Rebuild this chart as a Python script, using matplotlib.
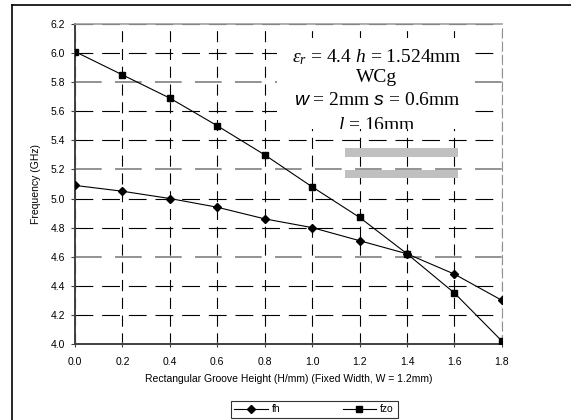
import matplotlib
matplotlib.use('Agg')
import matplotlib.pyplot as plt
from matplotlib.patches import Rectangle
from matplotlib.lines import Line2D
from matplotlib.transforms import Bbox, TransformedBbox

# groove height (mm) and frequencies (GHz)
height = [0.0, 0.2, 0.4, 0.6, 0.8, 1.0, 1.2, 1.4, 1.6, 1.8]
fh = [5.09, 5.05, 5.00, 4.94, 4.86, 4.80, 4.71, 4.62, 4.48, 4.30]
fzo = [6.01, 5.85, 5.69, 5.50, 5.30, 5.08, 4.87, 4.62, 4.35, 4.02]
xticks = [0.0, 0.2, 0.4, 0.6, 0.8, 1.0, 1.2, 1.4, 1.6, 1.8]
yticks = [4.0, 4.2, 4.4, 4.6, 4.8, 5.0, 5.2, 5.4, 5.6, 5.8, 6.0, 6.2]

plt.rcParams['font.family'] = ['Liberation Sans', 'DejaVu Sans']
# Times-like math text, with sans italic for the w and s symbols
plt.rcParams['mathtext.fontset'] = 'custom'
plt.rcParams['mathtext.rm'] = 'Liberation Serif'
plt.rcParams['mathtext.it'] = 'Liberation Serif:italic'
plt.rcParams['mathtext.bf'] = 'Liberation Sans:italic'

fig = plt.figure(figsize=(5.71, 4.20), dpi=100)
ax = fig.add_axes([0.1313, 0.181, 0.7477, 0.762])

ax.plot(height, fh, color='black', lw=0.8, marker='D', ms=3.8, label='fh', zorder=4)
ax.plot(height, fzo, color='black', lw=0.8, marker='s', ms=4.8, label='fzo', zorder=4)

ax.set_xlim(0, 1.8)
ax.set_ylim(4.0, 6.2)
ax.set_xticks(xticks)
ax.set_yticks(yticks)
ax.set_xticklabels(['%.1f' % v for v in xticks])
ax.set_yticklabels(['%.1f' % v for v in yticks])
ax.tick_params(labelsize=7.5, length=3, width=0.8, color='#404040', pad=4)
ax.tick_params(axis='x', direction='inout', length=5, pad=7)

# Excel style grid: longer dashes across, shorter ones down
ax.grid(axis='y', color='black', lw=0.8, linestyle=(0, (16, 8)))
ax.grid(axis='x', color='black', lw=0.8, linestyle=(0, (10, 6)))
for v, gl in zip(yticks, ax.yaxis.get_gridlines()):
    if v in (4.6, 5.2, 5.8):
        gl.set_color('#808080')
        gl.set_linewidth(1.2)
ax.set_axisbelow(True)

for s in ('left', 'bottom'):
    ax.spines[s].set_color('#404040')
    ax.spines[s].set_linewidth(1.4)
ax.spines['top'].set_color('#a0a0a0')
ax.spines['top'].set_linewidth(1.2)
ax.spines['right'].set_color('#909090')
ax.spines['right'].set_linestyle((0, (8, 4)))

ax.set_xlabel('Rectangular Groove Height (H/mm) (Fixed Width, W = 1.2mm)',
              fontsize=7.5, labelpad=5)
ax.set_ylabel('Frequency (GHz)', fontsize=7.5, labelpad=7)

# annotation box covering the grid, last line is cut by it
bx0, by0, bx1, by1 = 0.851, 5.480, 1.686, 6.104
box = Rectangle((bx0, by0), bx1 - bx0, by1 - by0, facecolor='white',
                edgecolor='none', zorder=3)
ax.add_patch(box)
clip = TransformedBbox(Bbox([[bx0, by0], [bx1, by1]]), ax.transData)
lines = [r'$\varepsilon_r$ = 4.4 $h$ = 1.524mm', 'WCg',
         r'$\mathbf{w}$ = 2mm $\mathbf{s}$ = 0.6mm',
         r'$l$ = 16mm']
ys = [5.973, 5.829, 5.671, 5.505]
for t, y in zip(lines, ys):
    txt = ax.text(1.273, y, t, ha='center', va='center', fontsize=14,
                  family='Liberation Serif', zorder=5)
    txt.set_clip_box(clip)
    txt.set_clip_on(True)

# the two grey strips
ax.add_patch(Rectangle((1.138, 5.286), 0.477, 0.062, facecolor='#c0c0c0',
                       edgecolor='none', zorder=3))
ax.add_patch(Rectangle((1.138, 5.142), 0.477, 0.055, facecolor='#c0c0c0',
                       edgecolor='none', zorder=3))

leg = fig.legend(loc='center', bbox_to_anchor=(0.550, 0.025), ncol=2,
                 fontsize=7.5, frameon=True, fancybox=False,
                 edgecolor='black', handlelength=3.2, handletextpad=0.4,
                 columnspacing=6, borderpad=0.35, borderaxespad=0)
leg.get_frame().set_linewidth(0.8)

# outer chart frame (left and top edges only visible)
fig.add_artist(Line2D([0.021, 0.021], [0.0, 0.988], color='black', lw=1.2))
fig.add_artist(Line2D([0.021, 1.0], [0.988, 0.988], color='black', lw=1.2))

fig.savefig('out.png', dpi=100)
